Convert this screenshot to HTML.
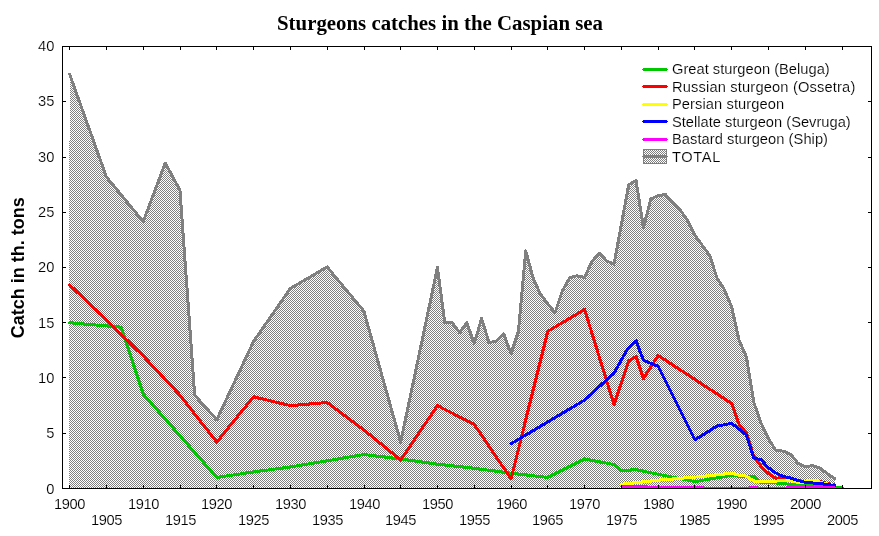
<!DOCTYPE html>
<html lang="en"><head><meta charset="utf-8"><title>Sturgeons catches in the Caspian sea</title>
<style>
html,body{margin:0;padding:0;background:#fff;}
body{width:879px;height:536px;overflow:hidden;}
svg{display:block;}
.t{font-family:"Liberation Sans",Arial,sans-serif;font-size:14.67px;fill:#000;stroke:#fff;stroke-width:0.15px;paint-order:fill stroke;}
.lg{font-family:"Liberation Sans",Arial,sans-serif;font-size:14.67px;fill:#000;stroke:#fff;stroke-width:0.15px;paint-order:fill stroke;}
.ttl{font-family:"Liberation Serif","Times New Roman",serif;font-weight:bold;font-size:20px;fill:#000;}
.yl{font-family:"Liberation Sans",Arial,sans-serif;font-weight:bold;font-size:18px;fill:#000;}
.ln{fill:none;stroke-width:3;stroke-linejoin:round;stroke-linecap:round;}
</style></head><body>
<svg width="879" height="536" viewBox="0 0 879 536">
<defs>
<pattern id="chk" x="0" y="0" width="2" height="2" patternUnits="userSpaceOnUse">
<rect x="0" y="0" width="2" height="2" fill="#fff"/>
<rect x="0" y="0" width="1" height="1" fill="#808080"/>
<rect x="1" y="1" width="1" height="1" fill="#808080"/>
</pattern>
<clipPath id="pc"><rect x="63" y="47" width="808" height="441"/></clipPath>
</defs>
<rect x="0" y="0" width="879" height="536" fill="#fff"/>

<text class="ttl" x="440" y="30" text-anchor="middle" textLength="326" lengthAdjust="spacingAndGlyphs">Sturgeons catches in the Caspian sea</text>
<g shape-rendering="crispEdges">
<polygon points="69.10,488.00 69.60,74.12 106.38,176.89 143.17,221.64 165.24,163.08 179.95,190.15 194.67,395.13 216.74,419.77 253.53,341.53 290.31,288.50 327.10,266.95 363.88,311.15 400.66,442.09 437.45,267.50 444.81,322.75 452.16,322.75 459.52,332.69 466.88,322.75 474.24,343.75 481.59,318.33 488.95,342.64 496.31,340.98 503.66,333.80 511.02,353.69 518.38,331.59 525.73,250.92 533.09,278.00 540.45,294.24 547.81,303.97 555.16,312.80 562.52,290.71 569.88,277.44 577.23,275.79 584.59,277.44 591.95,261.42 599.30,253.13 606.66,260.87 614.02,264.18 621.38,224.40 628.73,184.62 636.09,180.76 643.45,227.72 650.80,198.99 658.16,195.67 665.52,194.57 672.87,202.86 680.23,210.04 687.59,220.54 694.95,235.46 702.30,245.40 709.66,255.34 717.02,278.00 724.37,289.60 731.73,307.28 739.09,340.43 746.44,357.00 753.80,402.31 761.16,423.31 768.51,438.77 775.87,450.49 783.23,451.15 790.59,454.25 797.94,463.31 805.30,466.73 812.66,465.52 820.01,467.95 827.37,473.58 834.73,478.56 834.73,488.00" fill="url(#chk)" stroke="none"/>
<g clip-path="url(#pc)"><polyline class="ln" stroke="#808080" points="69.60,74.12 106.38,176.89 143.17,221.64 165.24,163.08 179.95,190.15 194.67,395.13 216.74,419.77 253.53,341.53 290.31,288.50 327.10,266.95 363.88,311.15 400.66,442.09 437.45,267.50 444.81,322.75 452.16,322.75 459.52,332.69 466.88,322.75 474.24,343.75 481.59,318.33 488.95,342.64 496.31,340.98 503.66,333.80 511.02,353.69 518.38,331.59 525.73,250.92 533.09,278.00 540.45,294.24 547.81,303.97 555.16,312.80 562.52,290.71 569.88,277.44 577.23,275.79 584.59,277.44 591.95,261.42 599.30,253.13 606.66,260.87 614.02,264.18 621.38,224.40 628.73,184.62 636.09,180.76 643.45,227.72 650.80,198.99 658.16,195.67 665.52,194.57 672.87,202.86 680.23,210.04 687.59,220.54 694.95,235.46 702.30,245.40 709.66,255.34 717.02,278.00 724.37,289.60 731.73,307.28 739.09,340.43 746.44,357.00 753.80,402.31 761.16,423.31 768.51,438.77 775.87,450.49 783.23,451.15 790.59,454.25 797.94,463.31 805.30,466.73 812.66,465.52 820.01,467.95 827.37,473.58 834.73,478.56"/>
<polyline class="ln" stroke="#00c800" points="69.60,322.75 121.10,327.17 143.17,394.02 216.74,477.45 253.53,471.93 290.31,466.95 327.10,460.88 363.88,454.47 400.66,459.00 437.45,464.19 474.24,468.28 511.02,473.25 547.81,477.45 584.59,459.00 614.02,464.52 621.38,470.49 636.09,469.71 658.16,474.25 694.95,481.65 731.73,475.24 739.09,476.35 746.44,476.35 753.80,476.79 761.16,482.98 768.51,482.42 775.87,482.98 783.23,483.53 790.59,484.52 797.94,484.96 805.30,485.19 812.66,485.52 820.01,486.29 827.37,486.84 834.73,487.39 842.09,487.39"/>
<polyline class="ln" stroke="#ff0000" points="69.60,284.85 106.38,319.99 143.17,355.90 179.95,395.13 216.74,442.09 253.53,396.78 290.31,405.62 327.10,402.53 363.88,429.94 400.66,459.99 437.45,405.62 474.24,424.41 511.02,478.78 547.81,331.26 584.59,309.49 614.02,404.52 628.73,360.87 636.09,356.78 643.45,378.55 658.16,355.46 731.73,403.53 739.09,424.30 746.44,433.03 753.80,456.45 761.16,466.40 768.51,473.58 775.87,478.22 783.23,477.45 790.59,478.56 797.94,480.54 805.30,481.54 812.66,481.54 820.01,481.54 827.37,483.53 834.73,484.96"/>
<polyline class="ln" stroke="#ffff00" points="621.38,484.30 658.16,480.21 694.95,477.12 731.73,473.25 739.09,475.24 746.44,476.12 753.80,481.10 761.16,481.10 768.51,481.10 775.87,481.10 783.23,480.54 790.59,480.54 797.94,482.42 805.30,481.87 808.24,480.54 817.07,480.54 820.01,482.31 827.37,483.86 834.73,485.41"/>
<polyline class="ln" stroke="#0000ff" points="511.02,443.75 584.59,400.10 614.02,373.03 628.00,348.16 636.09,340.98 643.45,360.32 658.16,366.40 694.95,439.88 717.02,426.07 731.73,423.31 746.44,434.91 753.80,458.00 761.16,459.88 768.51,467.95 775.87,473.03 783.23,476.46 790.59,478.00 797.94,480.54 805.30,482.31 812.66,482.98 820.01,483.53 827.37,484.52 834.73,485.52"/>
<rect x="621" y="485" width="27" height="3" fill="#ff00ff"/>
<rect x="648" y="486" width="56" height="2" fill="#ff00ff"/>
<rect x="704" y="487" width="45" height="1" fill="#ff00ff"/>
<rect x="749" y="486" width="9" height="2" fill="#ff00ff"/>
<rect x="758" y="487" width="28" height="1" fill="#ff00ff"/>
<rect x="786" y="486" width="49" height="2" fill="#ff00ff"/>
</g>
<rect x="62.5" y="46.5" width="809" height="442" fill="none" stroke="#000" stroke-width="1"/>
<rect x="69" y="485" width="1" height="3" fill="#000"/>
<rect x="69" y="47" width="1" height="3" fill="#000"/>
<rect x="106" y="485" width="1" height="3" fill="#000"/>
<rect x="106" y="47" width="1" height="3" fill="#000"/>
<rect x="143" y="485" width="1" height="3" fill="#000"/>
<rect x="143" y="47" width="1" height="3" fill="#000"/>
<rect x="180" y="485" width="1" height="3" fill="#000"/>
<rect x="180" y="47" width="1" height="3" fill="#000"/>
<rect x="216" y="485" width="1" height="3" fill="#000"/>
<rect x="216" y="47" width="1" height="3" fill="#000"/>
<rect x="253" y="485" width="1" height="3" fill="#000"/>
<rect x="253" y="47" width="1" height="3" fill="#000"/>
<rect x="290" y="485" width="1" height="3" fill="#000"/>
<rect x="290" y="47" width="1" height="3" fill="#000"/>
<rect x="327" y="485" width="1" height="3" fill="#000"/>
<rect x="327" y="47" width="1" height="3" fill="#000"/>
<rect x="364" y="485" width="1" height="3" fill="#000"/>
<rect x="364" y="47" width="1" height="3" fill="#000"/>
<rect x="400" y="485" width="1" height="3" fill="#000"/>
<rect x="400" y="47" width="1" height="3" fill="#000"/>
<rect x="437" y="485" width="1" height="3" fill="#000"/>
<rect x="437" y="47" width="1" height="3" fill="#000"/>
<rect x="474" y="485" width="1" height="3" fill="#000"/>
<rect x="474" y="47" width="1" height="3" fill="#000"/>
<rect x="511" y="485" width="1" height="3" fill="#000"/>
<rect x="511" y="47" width="1" height="3" fill="#000"/>
<rect x="547" y="485" width="1" height="3" fill="#000"/>
<rect x="547" y="47" width="1" height="3" fill="#000"/>
<rect x="584" y="485" width="1" height="3" fill="#000"/>
<rect x="584" y="47" width="1" height="3" fill="#000"/>
<rect x="621" y="485" width="1" height="3" fill="#000"/>
<rect x="621" y="47" width="1" height="3" fill="#000"/>
<rect x="658" y="485" width="1" height="3" fill="#000"/>
<rect x="658" y="47" width="1" height="3" fill="#000"/>
<rect x="694" y="485" width="1" height="3" fill="#000"/>
<rect x="694" y="47" width="1" height="3" fill="#000"/>
<rect x="731" y="485" width="1" height="3" fill="#000"/>
<rect x="731" y="47" width="1" height="3" fill="#000"/>
<rect x="768" y="485" width="1" height="3" fill="#000"/>
<rect x="768" y="47" width="1" height="3" fill="#000"/>
<rect x="805" y="485" width="1" height="3" fill="#000"/>
<rect x="805" y="47" width="1" height="3" fill="#000"/>
<rect x="842" y="485" width="1" height="3" fill="#000"/>
<rect x="842" y="47" width="1" height="3" fill="#000"/>
<rect x="63" y="433" width="3" height="1" fill="#000"/>
<rect x="868" y="433" width="3" height="1" fill="#000"/>
<rect x="63" y="377" width="3" height="1" fill="#000"/>
<rect x="868" y="377" width="3" height="1" fill="#000"/>
<rect x="63" y="322" width="3" height="1" fill="#000"/>
<rect x="868" y="322" width="3" height="1" fill="#000"/>
<rect x="63" y="267" width="3" height="1" fill="#000"/>
<rect x="868" y="267" width="3" height="1" fill="#000"/>
<rect x="63" y="212" width="3" height="1" fill="#000"/>
<rect x="868" y="212" width="3" height="1" fill="#000"/>
<rect x="63" y="157" width="3" height="1" fill="#000"/>
<rect x="868" y="157" width="3" height="1" fill="#000"/>
<rect x="63" y="101" width="3" height="1" fill="#000"/>
<rect x="868" y="101" width="3" height="1" fill="#000"/>
<rect x="643" y="68" width="24" height="3" fill="#00c800"/>
<rect x="642" y="69" width="26" height="1" fill="#00c800"/>
<rect x="643" y="85" width="24" height="3" fill="#ff0000"/>
<rect x="642" y="86" width="26" height="1" fill="#ff0000"/>
<rect x="643" y="103" width="24" height="3" fill="#ffff00"/>
<rect x="642" y="104" width="26" height="1" fill="#ffff00"/>
<rect x="643" y="120" width="24" height="3" fill="#0000ff"/>
<rect x="642" y="121" width="26" height="1" fill="#0000ff"/>
<rect x="643" y="138" width="24" height="3" fill="#ff00ff"/>
<rect x="642" y="139" width="26" height="1" fill="#ff00ff"/>
<rect x="643.5" y="149.5" width="23" height="14" fill="url(#chk)" stroke="#808080" stroke-width="1"/>
<rect x="643" y="155" width="24" height="3" fill="#808080"/>
<rect x="642" y="156" width="26" height="1" fill="#808080"/>
</g>
<text class="lg" x="672" y="74.0" textLength="157.7" lengthAdjust="spacing">Great sturgeon (Beluga)</text>
<text class="lg" x="672" y="91.5" textLength="183.3" lengthAdjust="spacing">Russian sturgeon (Ossetra)</text>
<text class="lg" x="672" y="109.0" textLength="112.2" lengthAdjust="spacing">Persian sturgeon</text>
<text class="lg" x="672" y="126.5" textLength="178.7" lengthAdjust="spacing">Stellate sturgeon (Sevruga)</text>
<text class="lg" x="672" y="144.0" textLength="156.0" lengthAdjust="spacing">Bastard sturgeon (Ship)</text>
<text class="lg" x="672" y="161.5" textLength="48.4" lengthAdjust="spacing">TOTAL</text>
<text class="t" x="54.3" y="493.8" text-anchor="end">0</text>
<text class="t" x="54.3" y="438.4" text-anchor="end">5</text>
<text class="t" x="54.3" y="383.0" text-anchor="end">10</text>
<text class="t" x="54.3" y="327.6" text-anchor="end">15</text>
<text class="t" x="54.3" y="272.2" text-anchor="end">20</text>
<text class="t" x="54.3" y="216.9" text-anchor="end">25</text>
<text class="t" x="54.3" y="161.5" text-anchor="end">30</text>
<text class="t" x="54.3" y="106.1" text-anchor="end">35</text>
<text class="t" x="54.3" y="50.8" text-anchor="end">40</text>
<text class="t" x="69.8" y="509" text-anchor="middle" textLength="31.4" lengthAdjust="spacing">1900</text>
<text class="t" x="106.8" y="525" text-anchor="middle" textLength="31.4" lengthAdjust="spacing">1905</text>
<text class="t" x="143.8" y="509" text-anchor="middle" textLength="31.4" lengthAdjust="spacing">1910</text>
<text class="t" x="180.8" y="525" text-anchor="middle" textLength="31.4" lengthAdjust="spacing">1915</text>
<text class="t" x="216.8" y="509" text-anchor="middle" textLength="31.4" lengthAdjust="spacing">1920</text>
<text class="t" x="253.8" y="525" text-anchor="middle" textLength="31.4" lengthAdjust="spacing">1925</text>
<text class="t" x="290.8" y="509" text-anchor="middle" textLength="31.4" lengthAdjust="spacing">1930</text>
<text class="t" x="327.8" y="525" text-anchor="middle" textLength="31.4" lengthAdjust="spacing">1935</text>
<text class="t" x="364.8" y="509" text-anchor="middle" textLength="31.4" lengthAdjust="spacing">1940</text>
<text class="t" x="400.8" y="525" text-anchor="middle" textLength="31.4" lengthAdjust="spacing">1945</text>
<text class="t" x="437.8" y="509" text-anchor="middle" textLength="31.4" lengthAdjust="spacing">1950</text>
<text class="t" x="474.8" y="525" text-anchor="middle" textLength="31.4" lengthAdjust="spacing">1955</text>
<text class="t" x="511.8" y="509" text-anchor="middle" textLength="31.4" lengthAdjust="spacing">1960</text>
<text class="t" x="547.8" y="525" text-anchor="middle" textLength="31.4" lengthAdjust="spacing">1965</text>
<text class="t" x="584.8" y="509" text-anchor="middle" textLength="31.4" lengthAdjust="spacing">1970</text>
<text class="t" x="621.8" y="525" text-anchor="middle" textLength="31.4" lengthAdjust="spacing">1975</text>
<text class="t" x="658.8" y="509" text-anchor="middle" textLength="31.4" lengthAdjust="spacing">1980</text>
<text class="t" x="694.8" y="525" text-anchor="middle" textLength="31.4" lengthAdjust="spacing">1985</text>
<text class="t" x="731.8" y="509" text-anchor="middle" textLength="31.4" lengthAdjust="spacing">1990</text>
<text class="t" x="768.8" y="525" text-anchor="middle" textLength="31.4" lengthAdjust="spacing">1995</text>
<text class="t" x="805.8" y="509" text-anchor="middle" textLength="31.4" lengthAdjust="spacing">2000</text>
<text class="t" x="842.8" y="525" text-anchor="middle" textLength="31.4" lengthAdjust="spacing">2005</text>
<text class="yl" transform="translate(24.1,267.8) rotate(-90)" text-anchor="middle">Catch in th. tons</text>
</svg></body></html>
